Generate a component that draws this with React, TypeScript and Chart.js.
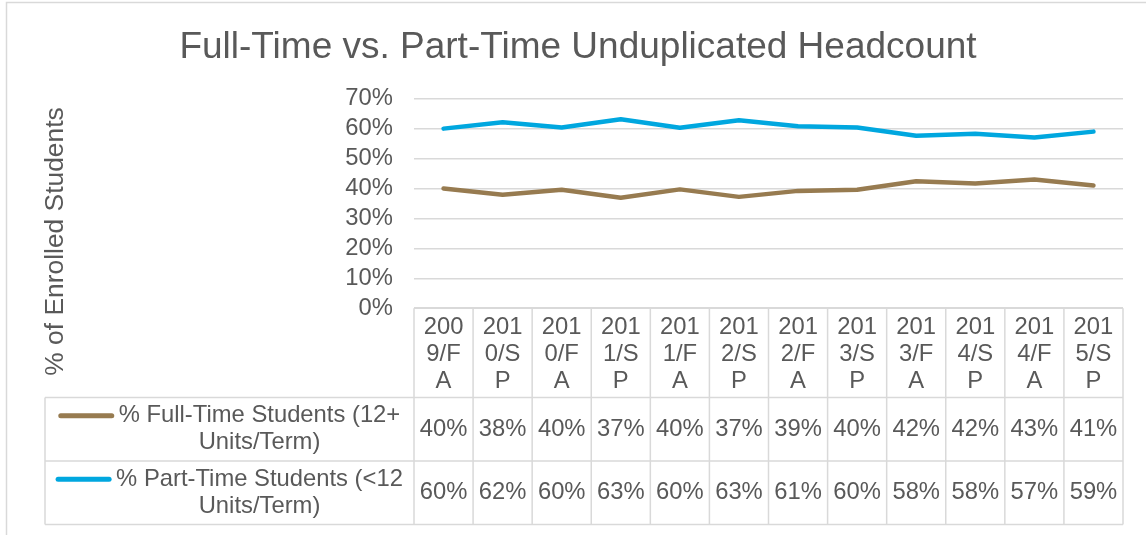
import React, { useEffect, useRef } from 'react';
import { Chart, registerables } from 'chart.js';

Chart.register(...registerables);

// ---------- data ----------
const chartTitle = 'Full-Time vs. Part-Time Unduplicated Headcount';
const yAxisTitle = '% of Enrolled Students';
const categories = [
  '2009/FA', '2010/SP', '2010/FA', '2011/SP', '2011/FA', '2012/SP',
  '2012/FA', '2013/SP', '2013/FA', '2014/SP', '2014/FA', '2015/SP',
];
const fullTimePct = [40.0, 37.9, 39.6, 36.9, 39.7, 37.2, 39.2, 39.6, 42.4, 41.7, 43.0, 41.0];
const partTimePct = [60.0, 62.1, 60.4, 63.1, 60.3, 62.8, 60.8, 60.4, 57.6, 58.3, 57.0, 59.0];
const seriesNames = ['% Full-Time Students (12+ Units/Term)', '% Part-Time Students (<12 Units/Term)'];
const seriesColors = ['#977B50', '#00A7DF'];
const yMin = 0;
const yMax = 70;
const yStep = 10;

// ---------- style ----------
const FONT = '"Liberation Sans", Arial, sans-serif';
const TEXT = '#595959';
const LINE = '#d9d9d9';
const W = 1146;
const H = 535;

const font = (size: number) => `${size}px ${FONT}`;

function wrapWords(ctx: CanvasRenderingContext2D, text: string, maxW: number): string[] {
  const words = text.split(' ');
  const lines: string[] = [];
  let cur = '';
  for (const w of words) {
    const t = cur ? cur + ' ' + w : w;
    if (cur && ctx.measureText(t).width > maxW) {
      lines.push(cur);
      cur = w;
    } else cur = t;
  }
  if (cur) lines.push(cur);
  return lines;
}

function wrapChars(ctx: CanvasRenderingContext2D, text: string, maxW: number): string[] {
  const lines: string[] = [];
  let cur = '';
  for (const c of text) {
    const t = cur + c;
    if (cur && ctx.measureText(t).width > maxW) {
      lines.push(cur);
      cur = c;
    } else cur = t;
  }
  if (cur) lines.push(cur);
  return lines;
}

const tablePlugin = {
  id: 'excelDecor',
  afterDraw(chart: any) {
    const ctx: CanvasRenderingContext2D = chart.ctx;
    const { left, right, bottom } = chart.chartArea;
    const xScale = chart.scales.x;
    const n = categories.length;
    const colW = (right - left) / n;
    const tableLeft = 45;
    const headerH = 89.3;
    const rowH = 63.5;
    const headerBottom = bottom + headerH;
    const rowTops = [headerBottom, headerBottom + rowH];
    const tableBottom = headerBottom + 2 * rowH;
    const lh = 27;

    ctx.save();

    // outer chart border
    ctx.strokeStyle = LINE;
    ctx.lineWidth = 1.5;
    ctx.beginPath();
    ctx.moveTo(6.5, H);
    ctx.lineTo(6.5, 2.5);
    ctx.lineTo(W, 2.5);
    ctx.stroke();

    // title
    ctx.fillStyle = TEXT;
    ctx.font = font(37);
    ctx.textAlign = 'center';
    ctx.textBaseline = 'alphabetic';
    ctx.fillText(chartTitle, 578, 58);

    // y axis title
    ctx.save();
    ctx.translate(56, 241.5);
    ctx.rotate(-Math.PI / 2);
    ctx.font = font(26.4);
    ctx.textBaseline = 'middle';
    ctx.fillText(yAxisTitle, 0, 0);
    ctx.restore();

    // table grid lines
    ctx.strokeStyle = LINE;
    ctx.lineWidth = 1.5;
    ctx.beginPath();
    for (let i = 0; i <= n; i++) {
      const x = left + i * colW;
      ctx.moveTo(x, bottom);
      ctx.lineTo(x, tableBottom);
    }
    ctx.moveTo(left, bottom);
    ctx.lineTo(right, bottom);
    ctx.moveTo(tableLeft, headerBottom);
    ctx.lineTo(tableLeft, tableBottom);
    for (const y of [headerBottom, headerBottom + rowH, tableBottom]) {
      ctx.moveTo(tableLeft, y);
      ctx.lineTo(right, y);
    }
    ctx.stroke();

    // header category labels
    ctx.font = font(23.8);
    ctx.fillStyle = TEXT;
    ctx.textAlign = 'center';
    ctx.textBaseline = 'middle';
    categories.forEach((cat, i) => {
      const cx = xScale.getPixelForValue(i);
      const lines = wrapChars(ctx, cat, colW - 12);
      const cy = bottom + headerH / 2 + 1.5;
      const y0 = cy - ((lines.length - 1) * lh) / 2;
      lines.forEach((l, k) => ctx.fillText(l, cx, y0 + k * lh));
    });

    // rows
    const series = [fullTimePct, partTimePct];
    series.forEach((vals, r) => {
      const top = rowTops[r];
      const cy = top + rowH / 2;
      // values
      ctx.font = font(23.8);
      ctx.fillStyle = TEXT;
      ctx.textAlign = 'center';
      vals.forEach((v, i) => {
        ctx.fillText(Math.round(v) + '%', xScale.getPixelForValue(i), cy);
      });
      // legend cell
      const lines = wrapWords(ctx, seriesNames[r], 300);
      const blockW = Math.max(...lines.map((l) => ctx.measureText(l).width));
      const keyW = 55;
      const gap = 5;
      const totalW = keyW + gap + blockW;
      const sx = tableLeft + (left - tableLeft - totalW) / 2;
      const y0 = cy - ((lines.length - 1) * lh) / 2;
      ctx.strokeStyle = seriesColors[r];
      ctx.lineWidth = 5;
      ctx.lineCap = 'round';
      ctx.beginPath();
      ctx.moveTo(sx + 2, y0);
      ctx.lineTo(sx + keyW - 2, y0);
      ctx.stroke();
      const tc = sx + keyW + gap + blockW / 2;
      lines.forEach((l, k) => ctx.fillText(l, tc, y0 + k * lh));
    });

    ctx.restore();
  },
};

export default function App() {
  const ref = useRef<HTMLCanvasElement>(null);

  useEffect(() => {
    if (!ref.current) return;
    const chart = new Chart(ref.current, {
      type: 'line',
      data: {
        labels: categories,
        datasets: [
          {
            label: seriesNames[0],
            data: fullTimePct,
            borderColor: seriesColors[0],
            backgroundColor: seriesColors[0],
            borderWidth: 4.5,
            pointRadius: 0,
            borderCapStyle: 'round',
            borderJoinStyle: 'round',
            tension: 0,
          },
          {
            label: seriesNames[1],
            data: partTimePct,
            borderColor: seriesColors[1],
            backgroundColor: seriesColors[1],
            borderWidth: 4.5,
            pointRadius: 0,
            borderCapStyle: 'round',
            borderJoinStyle: 'round',
            tension: 0,
          },
        ],
      },
      options: {
        responsive: false,
        animation: false,
        devicePixelRatio: 1,
        layout: { padding: { left: 0, right: 23, top: 98.7, bottom: 10.5 } },
        plugins: {
          legend: { display: false },
          title: { display: false },
          tooltip: { enabled: false },
        },
        scales: {
          x: {
            type: 'category',
            offset: true,
            grid: { display: false },
            border: { display: false },
            ticks: { display: false },
            afterFit: (s: any) => {
              s.height = 216.3;
            },
          },
          y: {
            min: yMin,
            max: yMax,
            border: { display: false },
            grid: { color: LINE, lineWidth: 1.5, drawTicks: false },
            ticks: {
              stepSize: yStep,
              autoSkip: false,
              padding: 21,
              color: TEXT,
              font: { family: FONT, size: 23.8 },
              callback: (v: any) => v + '%',
            },
            afterFit: (s: any) => {
              s.width = 414;
            },
          },
        },
      },
      plugins: [tablePlugin],
    } as any);
    return () => chart.destroy();
  }, []);

  return (
    <div style={{ position: 'absolute', left: 0, top: 0, width: W, height: H, background: '#fff' }}>
      <canvas ref={ref} width={W} height={H} style={{ width: W, height: H, display: 'block' }} />
    </div>
  );
}
